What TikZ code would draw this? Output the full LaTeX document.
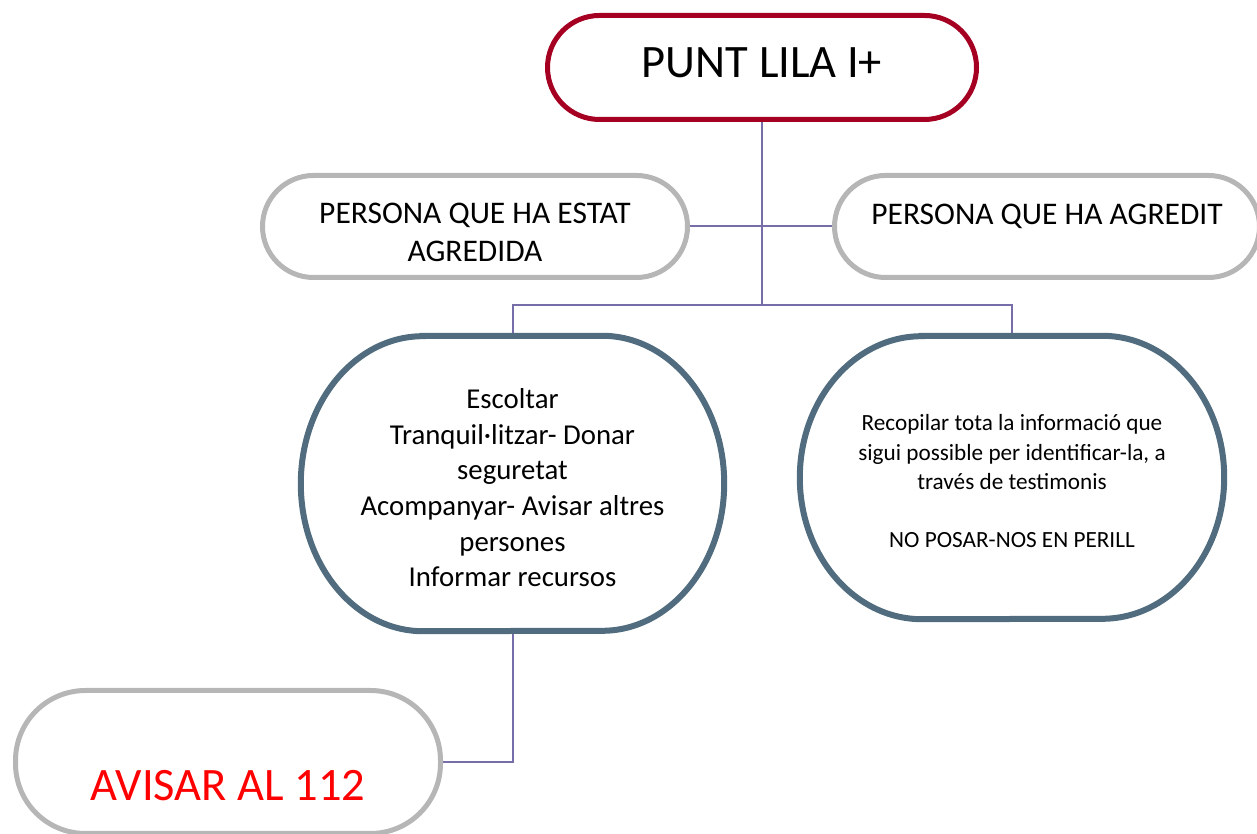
\documentclass[tikz,border=0pt]{standalone}
\usepackage{fontspec}
\setmainfont{Carlito}
\usetikzlibrary{backgrounds}
\definecolor{lilared}{RGB}{165,0,33}
\definecolor{pillgray}{RGB}{182,182,182}
\definecolor{ovalblue}{RGB}{80,108,126}
\definecolor{linkviolet}{RGB}{118,110,168}
\tikzset{
  pill/.style={draw=pillgray, line width=5pt, rounded corners=51pt, minimum width=425pt,
    minimum height=102pt, inner sep=0pt, align=center, font=\fontsize{31.5}{38}\selectfont},
  titlepill/.style={pill, draw=lilared, minimum width=429pt, minimum height=104pt,
    rounded corners=52pt, font=\fontsize{46.5}{56}\selectfont},
  ovalbox/.style={inner sep=0pt, align=center, text depth=0pt},
  ovalline/.style={draw=ovalblue, line width=6pt},
  link/.style={draw=linkviolet, line width=2pt}
}
% border with elliptical corners: node, x radius, y radius
\newcommand{\softoval}[3]{%
  \draw[ovalline] ([xshift=#2]#1.north west) -- ([xshift=-#2]#1.north east)
    arc[start angle=90, end angle=-90, x radius=#2, y radius=#3]
    -- ([xshift=#2]#1.south west)
    arc[start angle=270, end angle=90, x radius=#2, y radius=#3] -- cycle;}

\begin{document}
\begin{tikzpicture}[x=1pt,y=1pt]
\useasboundingbox (0,0) rectangle (1257,834);

\node[titlepill, text height=25pt, text depth=4pt] (punt) at (762,766.5) {PUNT LILA I+};
\node[pill, text height=71pt, text depth=0pt] (victim) at (475,607.5) {PERSONA QUE HA ESTAT\\AGREDIDA};
\node[pill, text height=22pt, text depth=25pt] (aggressor) at (1047,607.5) {PERSONA QUE HA AGREDIT};

\node[ovalbox, text height=207pt, minimum width=423pt, minimum height=295pt, font=\fontsize{28.8}{35.7}\selectfont]
  (care) at (512.5,350.5) {Escoltar\\Tranquil·litzar- Donar\\seguretat\\Acompanyar- Avisar altres\\persones\\Informar recursos};
\node[ovalbox, text height=141pt, minimum width=424pt, minimum height=283pt, font=\fontsize{23.2}{29.3}\selectfont]
  (gather) at (1012,356.5) {Recopilar tota la informació que\\sigui possible per identificar-la, a\\través de testimonis\\[29.3pt]NO POSAR-NOS EN PERILL};
\softoval{care}{122pt}{147.5pt}
\softoval{gather}{122pt}{141.5pt}

\node[pill, minimum height=143pt, rounded corners=70pt, text=red, text height=78pt, text depth=0pt,
  font=\fontsize{46.5}{56}\selectfont] (emergency) at (228,72) {AVISAR AL 112};

% connectors
\coordinate (hub) at (762,529);
\begin{scope}[on background layer]
\draw[link] (punt.south) -- (hub);
\draw[link] (victim.east) -- (aggressor.west);
\draw[link] (care.north) |- (hub) -| (gather.north);
\draw[link] (care.south) |- (emergency.east);
\end{scope}
\end{tikzpicture}
\end{document}
